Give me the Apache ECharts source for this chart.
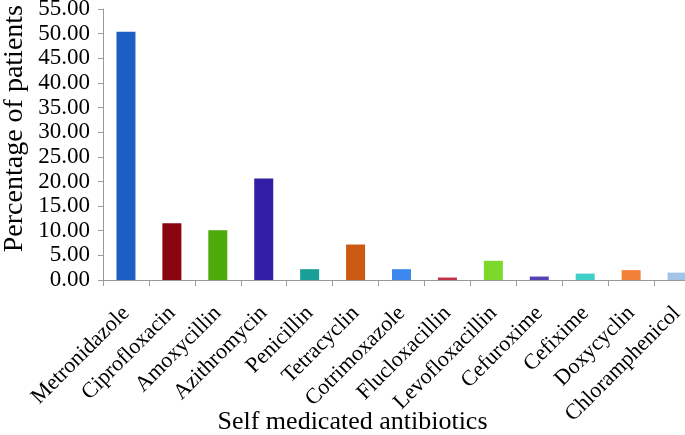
<!DOCTYPE html>
<html>
<head>
<meta charset="utf-8">
<script src="https://cdn.jsdelivr.net/npm/echarts@6/dist/echarts.min.js"></script>
<style>html,body{margin:0;padding:0;background:#fff;}#c{width:685px;height:435px;}</style>
</head>
<body>
<div id="c"></div>
<script>
const categories = ["Metronidazole","Ciprofloxacin","Amoxycillin","Azithromycin","Penicillin","Tetracyclin","Cotrimoxazole","Flucloxacillin","Levofloxacillin","Cefuroxime","Cefixime","Doxycyclin","Chloramphenicol"];
const values = [50.4, 11.5, 10.1, 20.6, 2.2, 7.2, 2.2, 0.5, 3.9, 0.7, 1.3, 2.0, 1.5];
const barColors = ["#1c5ec4","#8a0510","#4eaa08","#301ea4","#1a9e98","#cc5a12","#3c88ee","#c03048","#7cd82a","#5640b6","#3ed0c6","#f28038","#a2c4e8"];
const yTicks = {min: 0, max: 55, interval: 5};
const yTitle = "Percentage of patients";
const xTitle = "Self medicated antibiotics";

const chart = echarts.init(document.getElementById('c'), null, {renderer: 'canvas'});
const serif = '"Liberation Serif", "DejaVu Serif", serif';
chart.setOption({
  animation: false,
  backgroundColor: '#ffffff',
  grid: {left: 103, width: 597, top: 9, bottom: 155, containLabel: false, outerBoundsMode: 'none'},
  xAxis: {
    type: 'category',
    data: categories,
    name: xTitle,
    nameLocation: 'middle',
    nameGap: 129,
    nameMoveOverlap: false,
    nameTextStyle: {fontFamily: serif, fontSize: 26, color: '#000', padding: [0, 98, 0, 0]},
    axisLine: {show: true, lineStyle: {color: '#9a9a9a', width: 1}},
    axisTick: {show: true, length: 6, lineStyle: {color: '#9a9a9a'}},
    axisLabel: {rotate: 45, interval: 0, margin: 30, fontFamily: serif, fontSize: 22, color: '#000'}
  },
  yAxis: {
    type: 'value',
    min: yTicks.min, max: yTicks.max, interval: yTicks.interval,
    axisLine: {show: true, lineStyle: {color: '#9a9a9a', width: 1}},
    axisTick: {show: true, length: 5, lineStyle: {color: '#9a9a9a'}},
    splitLine: {show: false},
    axisLabel: {margin: 13, fontFamily: serif, fontSize: 23, color: '#000', formatter: v => v.toFixed(2)}
  },
  graphic: [{
    type: 'text',
    left: 1, top: 5,
    rotation: Math.PI / 2,
    style: {text: yTitle, font: '28px "Liberation Serif", serif', fill: '#000'},
    silent: true
  }],
  series: [{
    type: 'bar',
    data: values.map((v, i) => ({value: v, itemStyle: {color: barColors[i]}})),
    barWidth: 19
  }]
});
</script>
</body>
</html>
